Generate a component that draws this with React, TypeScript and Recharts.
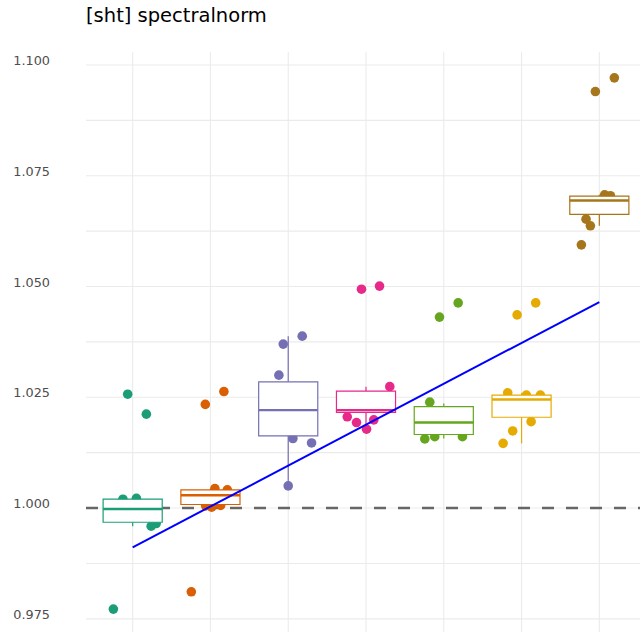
import {
  CartesianGrid,
  ComposedChart,
  Line,
  ReferenceArea,
  ReferenceLine,
  Scatter,
  XAxis,
  YAxis,
} from 'recharts'

// Dark2 colours, one per group
const colors = ['#1B9E77', '#D95F02', '#7570B3', '#E7298A', '#66A61E', '#E6AB02', '#A6761D']

// group positions on the discrete x axis
const groups = [1, 2, 3, 4, 5, 6, 7]

// box stats per group: [lower whisker, q1, median, q3, upper whisker]
const boxStats = [
  [0.9959, 0.9968, 0.9998, 1.002, 1.0022],
  [1.0002, 1.0008, 1.0029, 1.0041, 1.0044],
  [1.005, 1.0163, 1.0221, 1.0285, 1.0388],
  [1.0178, 1.0216, 1.0221, 1.0264, 1.0274],
  [1.0157, 1.0166, 1.0193, 1.0229, 1.0236],
  [1.0146, 1.0205, 1.0245, 1.0255, 1.026],
  [1.0637, 1.0663, 1.0694, 1.0704, 1.0707],
]

// jittered points, [x, y] per group
const points = [
  [[0.752, 0.9772], [0.936, 1.0257], [1.176, 1.0212], [0.875, 1.002], [1.048, 1.0022], [1.238, 0.9959], [1.302, 0.9965]],
  [[1.934, 1.0234], [2.173, 1.0263], [1.754, 0.9811], [2.057, 1.0044], [2.217, 1.0041], [1.938, 1.0005], [2.015, 1.0002], [2.131, 1.0006]],
  [[2.936, 1.037], [3.18, 1.0388], [2.88, 1.03], [3.06, 1.0157], [3.3, 1.0147], [3.0, 1.005]],
  [[3.942, 1.0494], [4.174, 1.0501], [4.306, 1.0274], [3.759, 1.0206], [3.878, 1.0193], [4.007, 1.0178], [4.1, 1.0199]],
  [[4.945, 1.0431], [5.185, 1.0463], [4.82, 1.0239], [4.756, 1.0156], [4.884, 1.0161], [5.24, 1.0161]],
  [[5.943, 1.0436], [6.182, 1.0463], [5.822, 1.026], [6.062, 1.0255], [6.242, 1.0255], [6.123, 1.0195], [5.886, 1.0174], [5.763, 1.0146]],
  [[7.193, 1.0971], [6.949, 1.094], [7.068, 1.0707], [7.142, 1.0705], [6.829, 1.0652], [6.885, 1.0637], [6.769, 1.0594]],
]

// linear fit across groups
const trend = [
  { x: 1, y: 0.99113 },
  { x: 7, y: 1.0465 },
]

const yTicks = [0.975, 0.9875, 1.0, 1.0125, 1.025, 1.0375, 1.05, 1.0625, 1.075, 1.0875, 1.1]

const halfWidth = 0.38

const YTick = (props: any) => {
  const { x, y, payload } = props
  const v = payload.value
  const major = Math.round(v * 1000) % 25 === 0
  if (!major) return null
  return (
    <text x={x} y={y - 4.5} dy="0.355em" textAnchor="end" fontSize={12.8} fill="#4d4d4d" fontFamily="DejaVu Sans">
      {v.toFixed(3)}
    </text>
  )
}

const NoTick = () => <g />

const App = () => {
  return (
    <div style={{ position: 'absolute', left: 0, top: 0, width: 640, height: 632, overflow: 'hidden', background: '#fff' }}>
      <div
        style={{
          position: 'absolute',
          left: 86,
          top: 6,
          fontFamily: 'DejaVu Sans',
          fontSize: 19.5,
          lineHeight: '19.5px',
          color: '#000',
          whiteSpace: 'nowrap',
        }}
      >
        [sht] spectralnorm
      </div>
      <ComposedChart width={660} height={660} margin={{ top: 52, right: 14, bottom: 25, left: 0 }}>
        <CartesianGrid
          stroke="#ebebeb"
          strokeWidth={1.1}
          verticalValues={groups}
          horizontalValues={yTicks}
        />
        <XAxis
          type="number"
          dataKey="x"
          domain={[0.4, 7.6]}
          ticks={groups}
          height={0}
          tick={NoTick}
          axisLine={false}
          tickLine={false}
          allowDataOverflow
        />
        <YAxis
          type="number"
          dataKey="y"
          domain={[0.97135, 1.10293]}
          ticks={yTicks}
          width={86}
          tick={<YTick />}
          tickSize={0}
          tickMargin={36}
          axisLine={false}
          tickLine={false}
          allowDataOverflow
        />
        <ReferenceLine y={1} stroke="#666666" strokeWidth={2.5} strokeDasharray="12 12" zIndex={60} />
        {points.map((pts, i) => (
          <Scatter
            key={`pts-${i}`}
            data={pts.map(([x, y]) => ({ x, y }))}
            isAnimationActive={false}
            zIndex={80}
            shape={(p: any) => <circle cx={p.cx} cy={p.cy} r={4.8} fill={colors[i]} />}
          />
        ))}
        {boxStats.map(([lo, q1, med, q3, hi], i) => (
          <ReferenceLine
            key={`wl-${i}`}
            segment={[
              { x: groups[i], y: lo },
              { x: groups[i], y: q1 },
            ]}
            stroke={colors[i]}
            strokeWidth={1.2}
            zIndex={690}
          />
        ))}
        {boxStats.map(([lo, q1, med, q3, hi], i) => (
          <ReferenceLine
            key={`wh-${i}`}
            segment={[
              { x: groups[i], y: q3 },
              { x: groups[i], y: hi },
            ]}
            stroke={colors[i]}
            strokeWidth={1.2}
            zIndex={690}
          />
        ))}
        {boxStats.map(([lo, q1, med, q3, hi], i) => (
          <ReferenceArea
            key={`box-${i}`}
            x1={groups[i] - halfWidth}
            x2={groups[i] + halfWidth}
            y1={q1}
            y2={q3}
            fill="#ffffff"
            fillOpacity={1}
            stroke={colors[i]}
            strokeWidth={1.2}
            zIndex={700}
          />
        ))}
        {boxStats.map(([lo, q1, med, q3, hi], i) => (
          <ReferenceLine
            key={`med-${i}`}
            segment={[
              { x: groups[i] - halfWidth, y: med },
              { x: groups[i] + halfWidth, y: med },
            ]}
            stroke={colors[i]}
            strokeWidth={2.4}
            zIndex={710}
          />
        ))}
        <Line
          data={trend}
          dataKey="y"
          stroke="#0000ff"
          strokeWidth={2}
          dot={false}
          activeDot={false}
          isAnimationActive={false}
          zIndex={800}
        />
      </ComposedChart>
    </div>
  )
}

export default App
